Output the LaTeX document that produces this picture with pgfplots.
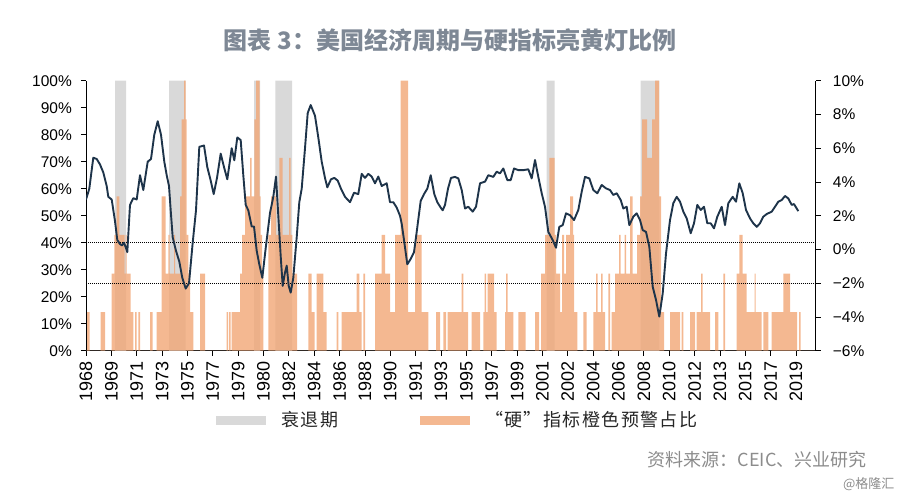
\documentclass[border=0pt]{standalone}
\usepackage{fontspec}
\setmainfont{Liberation Sans}
\newfontfamily\cjk{Noto Sans CJK SC}
\newfontfamily\cjkwide[LetterSpace=8]{Noto Sans CJK SC}
\usepackage{pgfplots}
\pgfplotsset{compat=1.18}
\definecolor{recgray}{RGB}{217,217,217}
\definecolor{warnorange}{RGB}{241,166,118}
\definecolor{gdpline}{RGB}{30,52,74}
\definecolor{titlecol}{RGB}{126,136,149}
\pgfplotsset{widelegend/.style={legend image code/.code={\fill[##1] (0bp,-4.5bp) rectangle (50bp,4.5bp); \path (63bp,0bp);}}}
\begin{document}
\begin{tikzpicture}
\useasboundingbox (0bp,0bp) rectangle (900bp,-491bp);
\node[font=\cjk\bfseries\fontsize{24bp}{27bp}\selectfont, text=titlecol] at (450bp,-40bp) {图表 3：美国经济周期与硬指标亮黄灯比例};
\begin{axis}[
  scale only axis, width=729.7bp, height=270bp, at={(86bp,-350.7bp)}, anchor=south west,
  xmin=86, xmax=815.7, ymin=0, ymax=100,
  axis x line*=bottom, axis y line*=left,
  axis line style={-, black, line width=0.8bp},
  tick align=outside, major tick length=5bp, tick style={black, line width=0.8bp},
  xtick={86,111.36,136.71,162.07,187.43,212.79,238.14,263.5,288.86,314.21,339.57,364.93,390.29,415.64,441,466.36,491.71,517.07,542.43,567.79,593.14,618.5,643.86,669.21,694.57,719.93,745.29,770.64,796},
  xticklabels={1968,1969,1971,1973,1975,1977,1979,1980,1982,1984,1986,1988,1990,1991,1993,1995,1997,1999,2001,2002,2004,2006,2008,2010,2012,2013,2015,2017,2019},
  x tick label style={rotate=90, anchor=east, font=\fontsize{18bp}{18bp}\selectfont, inner xsep=6bp, inner ysep=1bp},
  ytick={0,10,20,30,40,50,60,70,80,90,100},
  yticklabels={0\%,10\%,20\%,30\%,40\%,50\%,60\%,70\%,80\%,90\%,100\%},
  y tick label style={font=\fontsize{15.5bp}{15.5bp}\selectfont, inner xsep=9bp, inner ysep=1bp},
  legend style={at={(0.174,-0.257)}, anchor=west, draw=none, fill=none,
    font=\cjkwide\fontsize{18bp}{20bp}\selectfont, text=black!85, legend columns=2,
    /tikz/every even column/.append style={column sep=80bp}},
]
\addplot[const plot mark left, fill=recgray, draw=none, widelegend] coordinates {
(86,0)(115,100)(126,0)(169,100)(185.7,0)(254,100)(260,0)(275.3,100)(292,0)
(546.7,100)(554.7,0)(640.7,100)(659.3,0)(815.7,0)} \closedcycle;
\addlegendentry{衰退期}
\addplot[const plot mark left, fill=warnorange, fill opacity=0.8, draw=none, widelegend] coordinates {
(86,0)(87,14.29)(89.5,0)(100.5,14.29)(105,0)(111.7,28.57)(114.3,42.86)(116.7,57.14)(119.3,42.86)
(124.5,28.57)(125.5,42.86)(126.7,28.57)(130.7,14.29)(133.3,0)(135,14.29)(136.7,0)(138.3,14.29)(140,0)
(150,14.29)(152.7,0)(156.7,14.29)(161.7,57.14)(165.7,28.57)(168.3,42.86)(169.5,28.57)(174,42.86)(175,28.57)
(180,57.14)(181.7,85.71)(184,100)(185.5,85.71)(186.7,42.86)(188.3,28.57)(190,14.29)(193.3,0)
(200,28.57)(205,0)(226.7,14.29)(228,0)(229,14.29)(230.5,0)(231.5,14.29)(240,28.57)(242,42.86)
(245,57.14)(250,71.43)(251.5,57.14)(254.3,85.71)(256,100)(259.5,57.14)(260.5,42.86)(262,28.57)(263.3,0)
(268.3,42.86)(271,57.14)(276,42.86)(279.3,71.43)(282.7,42.86)(289,71.43)(290.5,42.86)(292.3,28.57)(297,0)
(308.3,28.57)(311.7,14.29)(314.5,0)(316.7,28.57)(323.3,14.29)(326.7,0)(336.7,14.29)(338.3,0)
(341.7,14.29)(356.7,28.57)(359.3,14.29)(361.5,0)(363.3,28.57)(365,0)(375,28.57)(381.7,42.86)(385,28.57)
(390,14.29)(395,42.86)(400.5,100)(408,14.29)(415,42.86)(421.7,14.29)(428.3,0)(436,14.29)(440,0)
(443.3,14.29)(446,0)(447.5,14.29)(461.7,28.57)(463.3,14.29)(468,0)(471.7,14.29)(480,0)
(483.3,14.29)(484.5,28.57)(486,14.29)(487.5,28.57)(494,14.29)(496.7,0)(505,14.29)(506,28.57)(507.5,14.29)
(513.3,0)(518.3,14.29)(525.7,0)(535,14.29)(539,0)(541,28.57)(545,42.86)(549.3,71.43)(554.7,42.86)
(556,28.57)(560,14.29)(562,42.86)(564,28.57)(566,42.86)(570,57.14)(573,42.86)(574,14.29)(577.3,0)
(583.3,14.29)(586.5,0)(593.3,14.29)(596,28.57)(597.5,14.29)(601,28.57)(602.5,14.29)(605,0)
(608.3,28.57)(610,0)(611.7,14.29)(615,28.57)(619,42.86)(620.5,28.57)(624.5,42.86)(626,28.57)
(630,57.14)(632.7,28.57)(637,42.86)(640,57.14)(642,85.71)(647,71.43)(652,85.71)(655,100)(659,57.14)
(661,14.29)(664,0)(670,14.29)(680,0)(681.7,14.29)(683.3,0)(690,14.29)(695,0)(696.7,14.29)(701,28.57)
(702.5,14.29)(710,0)(715,14.29)(718.3,0)(723.3,28.57)(725,0)(736.7,28.57)(739.3,42.86)(742.7,28.57)
(746.7,14.29)(754.5,28.57)(755.7,14.29)(761.7,0)(763.3,14.29)(768.3,0)(771.7,14.29)(783.3,28.57)
(790,14.29)(797,0)(799,14.29)(800.5,0)(815.7,0)} \closedcycle;
\addlegendentry{“硬”指标橙色预警占比}
\addplot[forget plot, black, densely dotted, line width=1bp] coordinates {(86,40)(815.7,40)};
\addplot[forget plot, black, densely dotted, line width=1bp] coordinates {(86,25)(815.7,25)};
\end{axis}
\begin{axis}[
  scale only axis, width=729.7bp, height=270bp, at={(86bp,-350.7bp)}, anchor=south west,
  xmin=86, xmax=815.7, ymin=-6, ymax=10,
  hide x axis, axis y line*=right,
  axis line style={-, black, line width=0.8bp},
  tick align=outside, major tick length=5bp, tick style={black, line width=0.8bp},
  ytick={-6,-4,-2,0,2,4,6,8,10},
  yticklabels={−6\%,−4\%,−2\%,0\%,2\%,4\%,6\%,8\%,10\%},
  y tick label style={font=\fontsize{15.5bp}{15.5bp}\selectfont, inner xsep=12bp, inner ysep=1bp},
]
\addplot[gdpline, line width=1.9bp, line join=round] coordinates {
(86.0,2.96)(89.3,3.60)(93.3,5.44)(96.7,5.36)(100,5.04)(103.3,4.56)(106.7,3.76)(108.3,3.12)(111.7,2.96)
(115,1.68)(117.3,0.56)(120,0.32)(122,0.24)(124,0.40)(126,0.08)(127.3,-0.16)(130,2.64)(133.3,3.04)
(136.7,2.96)(140,4.40)(143.3,3.52)(147.7,5.20)(151,5.36)(154.3,6.80)(157.7,7.60)(161,6.80)(164.3,5.20)
(166.7,4.40)(169,3.76)(170.7,2.32)(172.7,0.72)(176,-0.08)(179.3,-0.72)(182.3,-1.68)(185.7,-2.32)
(189,-2.00)(192.7,0.40)(196,2.32)(199.3,6.08)(204,6.16)(207.3,4.88)(210.7,4.08)(213.7,3.28)(217,4.24)
(220.7,5.68)(224,4.88)(227.3,4.16)(231.7,6.00)(234.3,5.28)(237.3,6.64)(240.7,6.48)(243.3,4.40)
(245.7,2.64)(248.3,2.32)(251.7,1.36)(254,1.36)(256.7,-0.08)(259.3,-0.88)(262.3,-1.68)(265.7,0.08)
(270,2.16)(273.3,3.12)(276,4.32)(278.3,2.00)(280.7,-0.40)(282.7,-2.16)(285,-1.36)(286.7,-0.96)
(288.7,-2.16)(290.7,-2.56)(293.3,-1.68)(296.7,0.72)(299.3,2.80)(301.7,3.60)(305,6.00)(307.7,8.08)
(310.7,8.56)(315,7.92)(318.3,6.64)(321.7,5.20)(325,4.24)(327.3,3.68)(331,4.16)(334.3,4.24)(337.7,4.08)
(341,3.60)(345,3.12)(350,2.80)(354,3.36)(358.3,3.28)(361.7,4.48)(365,4.24)(368.3,4.48)(371.7,4.32)
(375,3.92)(378.3,4.32)(381.7,3.76)(386.7,3.92)(390,2.80)(393.3,2.80)(396.7,2.48)(400,2.00)(401.7,1.52)
(404,0.56)(407.3,-0.88)(410.7,-0.56)(414,-0.16)(416.7,1.04)(420.7,2.88)(424,3.28)(427.3,3.60)
(430.7,4.40)(434.3,3.28)(437.3,2.80)(440.7,2.48)(442.7,2.32)(445,2.64)(448,3.60)(451,4.24)(455,4.30)
(458.3,4.21)(461.7,3.52)(465,2.43)(468.3,2.53)(472.7,2.24)(476,2.53)(480,3.92)(485,4.02)(488.3,4.40)
(493.3,4.30)(496.7,4.61)(500,4.51)(503.3,4.80)(507.3,4.11)(510.7,4.11)(514,4.80)(518.3,4.70)
(523.3,4.70)(528.3,4.75)(531.7,4.21)(535,5.30)(538.3,4.30)(541.7,3.33)(545,2.53)(548.3,1.04)
(552.7,0.56)(556,0.10)(559.3,1.34)(562.7,1.44)(566,2.14)(570,2.03)(574,1.74)(578.3,2.34)(581.7,3.42)
(585,4.30)(589.3,4.21)(593.3,3.52)(597.3,3.33)(601.7,3.82)(606,3.62)(610,3.52)(613.3,3.23)(616.7,3.33)
(620.7,2.93)(623.3,2.43)(626.7,2.53)(629.3,1.44)(633.3,1.94)(636.7,2.14)(640,1.74)(642.7,1.15)
(646,1.04)(649.3,0.16)(652.7,-2.21)(656,-2.99)(659.3,-3.98)(662.7,-2.61)(666,-0.24)(670,1.74)
(673.3,2.74)(676.7,3.12)(680,2.83)(683.3,2.24)(686.7,1.84)(690.7,0.96)(694,1.55)(697.3,2.64)
(700.7,2.34)(704,2.53)(707.3,1.55)(710.7,1.55)(714,1.25)(717.3,1.94)(721.7,2.53)(725,1.44)(728.3,2.74)
(732.7,3.12)(736,2.83)(739.3,3.92)(742.7,3.33)(746,2.34)(750,1.84)(753.3,1.55)(756.7,1.34)(760,1.55)
(763.3,1.94)(766.7,2.10)(771.7,2.24)(775,2.53)(778.3,2.83)(781.7,2.93)(785,3.17)(788.3,3.02)
(791.7,2.64)(794,2.69)(798.3,2.27)};
\end{axis}
\node[font=\cjk\fontsize{18bp}{20bp}\selectfont, text=black!45, anchor=east] at (870bp,-460bp) {资料来源：CEIC、兴业研究};
\node[font=\cjk\fontsize{13bp}{15bp}\selectfont, text=black!45, anchor=east] at (898bp,-484bp) {@格隆汇};
\end{tikzpicture}
\end{document}
